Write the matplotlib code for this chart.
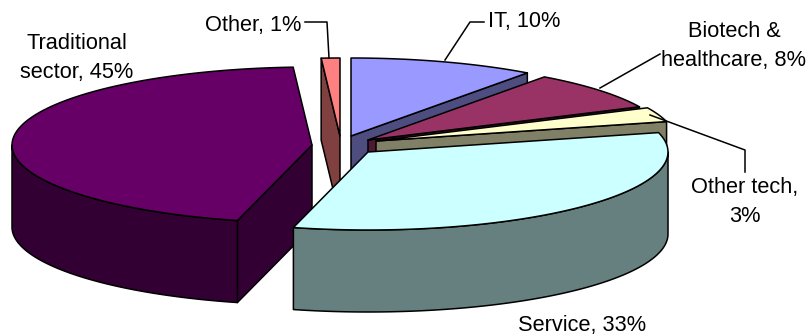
"""
Exploded 3D style pie chart of firm sectors, drawn on a pixel axes.
"""
import numpy as np
import matplotlib
matplotlib.use('Agg')
import matplotlib.pyplot as plt
from matplotlib.patches import Polygon

plt.rcParams['font.family'] = ['Liberation Sans', 'DejaVu Sans']

# data, clockwise from 12 o'clock
categories = ['IT', 'Biotech &\nhealthcare', 'Other tech,\n', 'Service', 'Traditional\nsector', 'Other']
shares = [10, 8, 3, 33, 45, 1]

# look of each slice
top_colors = ['#9999FF', '#993366', '#FFFFCC', '#CCFFFF', '#660066', '#FF8080']
wall_colors = ['#4D4D80', '#4D1A33', '#808066', '#668080', '#330033', '#804040']
apex_x = [351, 368, 376, 368, 312, 340]
apex_y = [136, 140, 141, 152, 145, 136]
draw_order = [0, 1, 2, 5, 4, 3]

# label positions and leader lines, one entry per slice
label_x = [524, 734, 745, 582, 77, 253]
label_y = [22, 46, 202, 325, 58, 26]
leaders = [
    [(484, 22), (470, 22), (445, 60)],
    [(660, 54), (600, 88)],
    [(650, 115), (745, 150), (745, 172)],
    [],
    [],
    [(305, 22), (327, 22), (329, 58)],
]

RX, RY, DEPTH = 300, 78, 82
LW = 1.1


def rim(ax0, ay0, t0, t1):
    t = np.radians(np.linspace(t0, t1, 80))
    return ax0 + RX * np.sin(t), ay0 - RY * np.cos(t)


def face(ax, xs, ys, color):
    ax.add_patch(Polygon(np.column_stack([xs, ys]), closed=True, facecolor=color,
                         edgecolor='black', linewidth=LW, joinstyle='round'))


def main():
    fig = plt.figure(figsize=(8.09, 3.35), dpi=100)
    ax = fig.add_axes([0, 0, 1, 1])
    ax.set_xlim(0, 809)
    ax.set_ylim(335, 0)
    ax.axis('off')

    edges = np.concatenate([[0], np.cumsum(shares)]) * 3.6
    for i in draw_order:
        t0, t1 = edges[i], edges[i + 1]
        x0, y0 = apex_x[i], apex_y[i]
        xs, ys = rim(x0, y0, t0, t1)
        wall = wall_colors[i]
        # cut walls: start edge shows on the left half, end edge on the right half
        if np.sin(np.radians(t0)) < -1e-6:
            face(ax, [x0, xs[0], xs[0], x0],
                 [y0, ys[0], ys[0] + DEPTH, y0 + DEPTH], wall)
        if np.sin(np.radians(t1)) > 1e-6:
            face(ax, [x0, xs[-1], xs[-1], x0],
                 [y0, ys[-1], ys[-1] + DEPTH, y0 + DEPTH], wall)
        # outer wall for the front half of the rim
        lo, hi = max(t0, 90), min(t1, 270)
        if hi > lo:
            ox, oy = rim(x0, y0, lo, hi)
            face(ax, np.concatenate([ox, ox[::-1]]),
                 np.concatenate([oy, oy[::-1] + DEPTH]), wall)
        # top
        face(ax, np.concatenate([[x0], xs]), np.concatenate([[y0], ys]), top_colors[i])

    for i, name in enumerate(categories):
        sep = '' if name.endswith('\n') else ', '
        ax.text(label_x[i], label_y[i], f'{name}{sep}{shares[i]}%', fontsize=15.7,
                ha='center', va='center', linespacing=1.5, color='black')
        if leaders[i]:
            lx, ly = zip(*leaders[i])
            ax.plot(lx, ly, color='black', lw=LW)

    fig.savefig('out.png', dpi=100)


if __name__ == '__main__':
    main()
